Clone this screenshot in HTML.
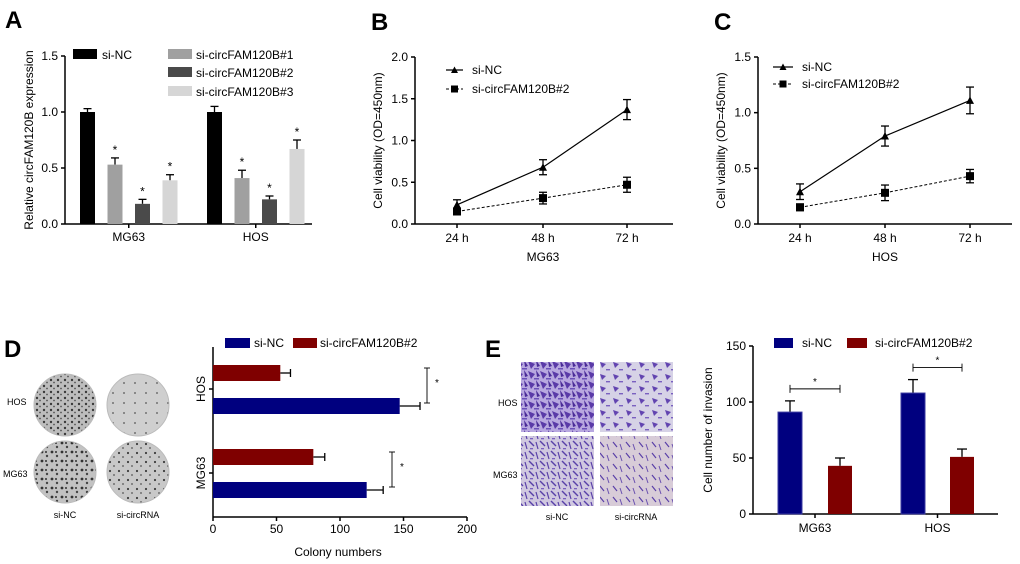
<!DOCTYPE html>
<html><head><meta charset="utf-8">
<style>
html,body{margin:0;padding:0;background:#fff;}
svg{display:block;font-family:"Liberation Sans",Arial,sans-serif;}
</style></head>
<body>
<svg id="fig" width="1020" height="564" viewBox="0 0 1020 564" xmlns="http://www.w3.org/2000/svg">
<defs>
<pattern id="dish1" width="7" height="6" patternUnits="userSpaceOnUse"><rect width="7" height="6" fill="#bdbdbd"/><circle cx="2" cy="2" r="1.2" fill="#3a3a3a"/><circle cx="5" cy="4.5" r="0.9" fill="#555"/></pattern>
<pattern id="dish2" width="11" height="10" patternUnits="userSpaceOnUse"><rect width="11" height="10" fill="#cfcfcf"/><circle cx="3" cy="3" r="0.9" fill="#555"/></pattern>
<pattern id="dish3" width="10" height="9" patternUnits="userSpaceOnUse"><rect width="10" height="9" fill="#c2c2c2"/><circle cx="2" cy="2" r="1.4" fill="#333"/><circle cx="7" cy="6" r="1.2" fill="#444"/><rect x="5" y="1" width="2" height="2" fill="#555"/></pattern>
<pattern id="dish4" width="9" height="9" patternUnits="userSpaceOnUse"><rect width="9" height="9" fill="#c8c8c8"/><circle cx="2" cy="3" r="1.1" fill="#3c3c3c"/><circle cx="6" cy="7" r="0.9" fill="#555"/></pattern>
<pattern id="mic1" width="12" height="10" patternUnits="userSpaceOnUse"><rect width="12" height="10" fill="#b8a8e0"/><path d="M0 1 L7 4 L3 9 Z" fill="#5a3aa8"/><path d="M8 0 L12 6 L9 7 Z" fill="#4a2c98"/><rect x="6" y="8" width="5" height="1.5" fill="#6a50b8"/></pattern>
<pattern id="mic2" width="13" height="12" patternUnits="userSpaceOnUse"><rect width="13" height="12" fill="#d6d2e6"/><path d="M2 2 L8 4 L4 8 Z" fill="#6244b0"/><rect x="8" y="9" width="4" height="1.4" fill="#7a60c0"/></pattern>
<pattern id="mic3" width="11" height="10" patternUnits="userSpaceOnUse"><rect width="11" height="10" fill="#d0c8e0"/><path d="M1 1 L6 6" stroke="#5840a8" stroke-width="1.4"/><path d="M8 2 L10 9" stroke="#5a40a8" stroke-width="1.2"/><rect x="2" y="8" width="3" height="1.3" fill="#7a60c0"/></pattern>
<pattern id="mic4" width="13" height="11" patternUnits="userSpaceOnUse"><rect width="13" height="11" fill="#d8ccd8"/><path d="M2 2 L6 7" stroke="#5a40a8" stroke-width="1.2"/><path d="M9 4 L11 10" stroke="#6a50b0" stroke-width="1"/></pattern>
</defs>
</svg>
<script>
// ---- Panel A data ----
const aCategories = ['MG63','HOS'];
const aSeries = ['si-NC','si-circFAM120B#1','si-circFAM120B#2','si-circFAM120B#3'];
const aValues = [[1.0,0.53,0.18,0.39],[1.0,0.41,0.22,0.67]];
const aErrors = [[0.03,0.06,0.04,0.05],[0.05,0.07,0.03,0.08]];
const aTicks = [0.0,0.5,1.0,1.5];
// ---- Panel B data ----
const timeLabels = ['24 h','48 h','72 h'];
const bNC = [0.23,0.68,1.37];
const bNCerr = [0.06,0.09,0.12];
const bSi = [0.15,0.31,0.47];
const bSierr = [0.04,0.07,0.09];
const bTicks = [0.0,0.5,1.0,1.5,2.0];
// ---- Panel C data ----
const cNC = [0.29,0.79,1.11];
const cNCerr = [0.07,0.09,0.12];
const cSi = [0.15,0.28,0.43];
const cSierr = [0.03,0.07,0.06];
const cTicks = [0.0,0.5,1.0,1.5];
// ---- Panel D data ----
const dCategories = ['HOS','MG63'];
const dNC = [147,121];
const dNCerr = [16,13];
const dSi = [53,79];
const dSierr = [8,9];
const dTicks = [0,50,100,150,200];
// ---- Panel E data ----
const eCategories = ['MG63','HOS'];
const eNC = [91,108];
const eNCerr = [10,12];
const eSi = [43,51];
const eSierr = [7,7];
const eTicks = [0,50,100,150];

const svg = document.getElementById('fig');
const NS = 'http://www.w3.org/2000/svg';
function mk(tag, attrs, name){
  const el = document.createElementNS(NS, tag);
  for (const k in attrs) el.setAttribute(k, attrs[k]);
  
  
  svg.appendChild(el);
  return el;
}
function txt(x,y,s,name,opt){
  opt = opt||{};
  const t = mk('text',{x:x,y:y,'font-size':opt.size||12,'text-anchor':opt.anchor||'middle',fill:'#000','font-weight':opt.bold?'bold':'normal',transform:opt.rot?`rotate(-90 ${x} ${y})`:''},name);
  t.textContent = s;
  return t;
}
function line(x1,y1,x2,y2,name,w,dash){
  const a={x1:x1,y1:y1,x2:x2,y2:y2,stroke:'#000','stroke-width':w||1.5};
  if(dash) a['stroke-dasharray']=dash;
  return mk('line',a,name);
}
function vErr(x,y1,y2,cap,name){
  line(x,y1,x,y2,name,1.3);
  line(x-cap,y1,x+cap,y1,name+'-cap',1.3);
}

// Panel labels
txt(5,28,'A','panel-label-a',{size:24,bold:true,anchor:'start'});
txt(371,30,'B','panel-label-b',{size:24,bold:true,anchor:'start'});
txt(714,30,'C','panel-label-c',{size:24,bold:true,anchor:'start'});
txt(4,357,'D','panel-label-d',{size:24,bold:true,anchor:'start'});
txt(485,357,'E','panel-label-e',{size:24,bold:true,anchor:'start'});

// ===== Panel A =====
(function(){
  const x0=65, y0=224, yTop=56, xEnd=312;
  const ya = v => y0 - (v/1.5)*(y0-yTop);
  const groupStart=[80,207], step=27.5, bw=15;
  const colors=['#000','#a0a0a0','#4a4a4a','#d6d6d6'];
  line(x0,yTop,x0,y0,'a-y-axis',1.5);
  line(x0,y0,xEnd,y0,'a-x-axis',1.5);
  aTicks.forEach(t=>{ line(x0-4,ya(t),x0,ya(t),'a-y-tick',1.5); txt(x0-7,ya(t)+4,t.toFixed(1),'a-y-tick-label',{size:12,anchor:'end'}); });
  aCategories.forEach((c,gi)=>{
    aValues[gi].forEach((v,si)=>{
      const x=groupStart[gi]+si*step;
      vErr(x+bw/2,ya(v+aErrors[gi][si]),ya(v),4,'a-error-bar');
      mk('rect',{x:x,y:ya(v),width:bw,height:y0-ya(v),fill:colors[si]},'a-bar');
      if(si>0) txt(x+bw/2,ya(v+aErrors[gi][si])-4,'*','a-significance-star',{size:12});
    });
    const cx=groupStart[gi]+1.5*step+bw/2;
    line(cx,y0,cx,y0+4,'a-x-tick',1.5);
    txt(cx,y0+17,c,'a-x-tick-label',{size:12});
  });
  txt(33,140,'Relative circFAM120B expression','a-y-axis-title',{size:12,rot:true});
  const lg=[[73,54,102],[168,54,196],[168,72,196],[168,91,196]];
  aSeries.forEach((s,i)=>{
    mk('rect',{x:lg[i][0],y:lg[i][1]-5,width:24,height:10,fill:colors[i]},'a-legend-swatch');
    txt(lg[i][2],lg[i][1]+5,s,'a-legend-entry',{size:12,anchor:'start'});
  });
})();

// ===== Line panels =====
function linePanel(p){
  const {x0,y0,yTop,xEnd,yMax,xs,ticks,nc,ncErr,si,siErr,cat,pfx,leg}=p;
  const ya = v => y0 - (v/yMax)*(y0-yTop);
  line(x0,yTop,x0,y0,pfx+'-y-axis',1.5);
  line(x0,y0,xEnd,y0,pfx+'-x-axis',1.5);
  ticks.forEach(t=>{ line(x0-4,ya(t),x0,ya(t),pfx+'-y-tick',1.5); txt(x0-7,ya(t)+4,t.toFixed(1),pfx+'-y-tick-label',{size:12,anchor:'end'}); });
  timeLabels.forEach((l,i)=>{ line(xs[i],y0,xs[i],y0+4,pfx+'-x-tick',1.5); txt(xs[i],y0+18,l,pfx+'-x-tick-label',{size:12}); });
  txt(xs[1],y0+37,cat,pfx+'-x-axis-title',{size:12});
  txt(x0-33,(y0+yTop)/2,'Cell viability (OD=450nm)',pfx+'-y-axis-title',{size:12,rot:true});
  for(let i=0;i<2;i++){
    line(xs[i],ya(si[i]),xs[i+1],ya(si[i+1]),pfx+'-sicirc-line',1,'3,2');
    line(xs[i],ya(nc[i]),xs[i+1],ya(nc[i+1]),pfx+'-sinc-line',1.2);
  }
  xs.forEach((x,i)=>{
    vErr(x,ya(nc[i]+ncErr[i]),ya(nc[i]-ncErr[i]),4,pfx+'-sinc-error');
    line(x-4,ya(nc[i]-ncErr[i]),x+4,ya(nc[i]-ncErr[i]),pfx+'-sinc-error-cap',1.3);
    vErr(x,ya(si[i]+siErr[i]),ya(si[i]-siErr[i]),4,pfx+'-sicirc-error');
    line(x-4,ya(si[i]-siErr[i]),x+4,ya(si[i]-siErr[i]),pfx+'-sicirc-error-cap',1.3);
    const y=ya(nc[i]);
    mk('polygon',{points:`${x-4},${y+3.5} ${x+4},${y+3.5} ${x},${y-4}`,fill:'#000'},pfx+'-sinc-point');
    mk('rect',{x:x-4,y:ya(si[i])-4,width:8,height:8,fill:'#000'},pfx+'-sicirc-point');
  });
  const [lx1,lx2,ly1,ly2,tx]=leg;
  line(lx1,ly1,lx2,ly1,pfx+'-legend-line',1.2);
  const mx=(lx1+lx2)/2;
  mk('polygon',{points:`${mx-3.5},${ly1+3} ${mx+3.5},${ly1+3} ${mx},${ly1-3.5}`,fill:'#000'},pfx+'-legend-marker');
  txt(tx,ly1+4,'si-NC',pfx+'-legend-entry',{size:12,anchor:'start'});
  line(lx1,ly2,lx2,ly2,pfx+'-legend-line',1,'3,2');
  mk('rect',{x:mx-3.5,y:ly2-3.5,width:7,height:7,fill:'#000'},pfx+'-legend-marker');
  txt(tx,ly2+4,'si-circFAM120B#2',pfx+'-legend-entry',{size:12,anchor:'start'});
}
linePanel({x0:415,y0:224,yTop:57,xEnd:673,yMax:2.0,xs:[457,543,627],ticks:bTicks,nc:bNC,ncErr:bNCerr,si:bSi,siErr:bSierr,cat:'MG63',pfx:'b',leg:[446,463,70,89,472]});
linePanel({x0:758,y0:224,yTop:57,xEnd:1012,yMax:1.5,xs:[800,885,970],ticks:cTicks,nc:cNC,ncErr:cNCerr,si:cSi,siErr:cSierr,cat:'HOS',pfx:'c',leg:[773,793,67,84,802]});

// ===== Panel D images =====
[['dish1',65,405],['dish2',138,405],['dish3',65,472],['dish4',138,472]].forEach(d=>{
  mk('circle',{cx:d[1],cy:d[2],r:31,fill:`url(#${d[0]})`,stroke:'#bbb','stroke-width':1},'d-colony-dish');
});
txt(7,405,'HOS','d-row-label-hos',{size:9,anchor:'start'});
txt(3,477,'MG63','d-row-label-mg63',{size:9,anchor:'start'});
txt(65,518,'si-NC','d-col-label-sinc',{size:9});
txt(138,518,'si-circRNA','d-col-label-sicirc',{size:9});

// ===== Panel D chart =====
(function(){
  const x0=213, yTop=347, y0=517, xMax=467;
  const xa = v => x0 + (v/200)*(xMax-x0);
  const centers=[389,473], bh=16;
  line(x0,yTop,x0,y0,'d-y-axis',1.5);
  line(x0,y0,xMax,y0,'d-x-axis',1.5);
  dTicks.forEach(t=>{ line(xa(t),y0,xa(t),y0+4,'d-x-tick',1.5); txt(xa(t),y0+16,String(t),'d-x-tick-label',{size:12}); });
  txt(338,556,'Colony numbers','d-x-axis-title',{size:12});
  dCategories.forEach((c,i)=>{
    const cy=centers[i];
    line(x0-4,cy,x0,cy,'d-y-tick',1.5);
    txt(x0-8,cy,c,'d-y-tick-label',{size:12,rot:true});
    const ry=cy-24;
    line(xa(dSi[i]),ry+bh/2,xa(dSi[i]+dSierr[i]),ry+bh/2,'d-sicirc-error',1.3);
    line(xa(dSi[i]+dSierr[i]),ry+bh/2-4,xa(dSi[i]+dSierr[i]),ry+bh/2+4,'d-sicirc-error-cap',1.3);
    mk('rect',{x:x0,y:ry,width:xa(dSi[i])-x0,height:bh,fill:'#7f0000'},'d-sicirc-bar');
    const by=cy+9;
    line(xa(dNC[i]),by+bh/2,xa(dNC[i]+dNCerr[i]),by+bh/2,'d-sinc-error',1.3);
    line(xa(dNC[i]+dNCerr[i]),by+bh/2-4,xa(dNC[i]+dNCerr[i]),by+bh/2+4,'d-sinc-error-cap',1.3);
    mk('rect',{x:x0,y:by,width:xa(dNC[i])-x0,height:bh,fill:'#00007f'},'d-sinc-bar');
    const bkx = i===0?427:392;
    line(bkx,ry+3,bkx,by+5,'d-significance-bracket',0.9);
    line(bkx-3,ry+3,bkx+3,ry+3,'d-bracket-cap',0.9);
    line(bkx-3,by+5,bkx+3,by+5,'d-bracket-cap',0.9);
    txt(bkx+10,cy-3,'*','d-significance-star',{size:10});
  });
  mk('rect',{x:225,y:338,width:25,height:10,fill:'#00007f'},'d-legend-swatch-sinc');
  txt(254,347,'si-NC','d-legend-entry-sinc',{size:12,anchor:'start'});
  mk('rect',{x:293,y:338,width:24,height:10,fill:'#7f0000'},'d-legend-swatch-sicirc');
  txt(320,347,'si-circFAM120B#2','d-legend-entry-sicirc',{size:12,anchor:'start'});
})();

// ===== Panel E images =====
[['mic1',521,362],['mic2',600,362],['mic3',521,436],['mic4',600,436]].forEach(d=>{
  mk('rect',{x:d[1],y:d[2],width:73,height:70,fill:`url(#${d[0]})`},'e-invasion-micrograph');
});
txt(498,406,'HOS','e-row-label-hos',{size:9,anchor:'start'});
txt(493,478,'MG63','e-row-label-mg63',{size:9,anchor:'start'});
txt(557,520,'si-NC','e-col-label-sinc',{size:9});
txt(636,520,'si-circRNA','e-col-label-sicirc',{size:9});

// ===== Panel E chart =====
(function(){
  const x0=753, yTop=346, y0=514, xEnd=998;
  const ya = v => y0 - (v/150)*(y0-yTop);
  const blueX=[778,901], redX=[828,950], bw=24;
  line(x0,yTop,x0,y0,'e-y-axis',1.5);
  line(x0,y0,xEnd,y0,'e-x-axis',1.5);
  eTicks.forEach(t=>{ line(x0-4,ya(t),x0,ya(t),'e-y-tick',1.5); txt(x0-7,ya(t)+4,String(t),'e-y-tick-label',{size:12,anchor:'end'}); });
  txt(712,430,'Cell number of invasion','e-y-axis-title',{size:12,rot:true});
  eCategories.forEach((c,i)=>{
    vErr(blueX[i]+bw/2,ya(eNC[i]+eNCerr[i]),ya(eNC[i]),5,'e-sinc-error');
    mk('rect',{x:blueX[i],y:ya(eNC[i]),width:bw,height:y0-ya(eNC[i]),fill:'#00007f',stroke:'#3a3aa0','stroke-width':1},'e-sinc-bar');
    vErr(redX[i]+bw/2,ya(eSi[i]+eSierr[i]),ya(eSi[i]),5,'e-sicirc-error');
    mk('rect',{x:redX[i],y:ya(eSi[i]),width:bw,height:y0-ya(eSi[i]),fill:'#7f0000'},'e-sicirc-bar');
    const cx=(blueX[i]+redX[i]+bw)/2;
    line(cx,y0,cx,y0+4,'e-x-tick',1.5);
    txt(cx,y0+18,c,'e-x-tick-label',{size:12});
    const by=ya(eNC[i]+eNCerr[i])-12;
    line(blueX[i]+bw/2,by,redX[i]+bw/2,by,'e-significance-bracket',0.9);
    line(blueX[i]+bw/2,by-4,blueX[i]+bw/2,by+4,'e-bracket-cap',0.9);
    line(redX[i]+bw/2,by-4,redX[i]+bw/2,by+4,'e-bracket-cap',0.9);
    txt(cx,by-4,'*','e-significance-star',{size:10});
  });
  mk('rect',{x:774,y:338,width:19,height:10,fill:'#00007f'},'e-legend-swatch-sinc');
  txt(802,347,'si-NC','e-legend-entry-sinc',{size:12,anchor:'start'});
  mk('rect',{x:847,y:338,width:20,height:10,fill:'#7f0000'},'e-legend-swatch-sicirc');
  txt(875,347,'si-circFAM120B#2','e-legend-entry-sicirc',{size:12,anchor:'start'});
})();
</script>
</body></html>
